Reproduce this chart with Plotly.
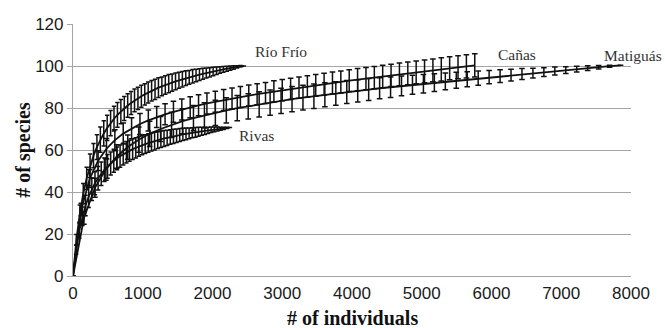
import plotly.graph_objects as go

# ---------------- data ----------------
rio_x = [0, 49, 98, 147, 196, 245, 294, 343, 392, 441, 490, 539, 588, 637, 686, 735, 784, 833, 882, 931,
         980, 1029, 1078, 1127, 1176, 1225, 1274, 1323, 1372, 1421, 1470, 1519, 1568, 1617, 1666, 1715,
         1764, 1813, 1862, 1911, 1960, 2009, 2058, 2107, 2156, 2205, 2254, 2303, 2352, 2401, 2450]
rio_y = [0, 17.3, 29.8, 39.2, 46.5, 52.5, 57.3, 61.4, 64.9, 67.9, 70.5, 72.8, 74.9, 76.7, 78.3, 79.8,
         81.2, 82.4, 83.6, 84.6, 85.6, 86.5, 87.4, 88.2, 88.9, 89.7, 90.3, 91.0, 91.6, 92.1, 92.7, 93.2,
         93.7, 94.2, 94.6, 95.1, 95.5, 95.9, 96.3, 96.7, 97.0, 97.4, 97.7, 98.1, 98.4, 98.7, 99.0, 99.3,
         99.6, 99.9, 100.0]
rio_sd = [0, 2.5, 4.0, 4.8, 5.3, 5.6, 5.8, 5.9, 6.0, 6.0, 6.0, 6.0, 5.9, 5.9, 5.8, 5.7, 5.6, 5.5, 5.4,
          5.3, 5.2, 5.1, 5.0, 4.9, 4.8, 4.7, 4.5, 4.4, 4.3, 4.1, 4.0, 3.8, 3.7, 3.5, 3.3, 3.2, 3.0, 2.8,
          2.6, 2.4, 2.2, 2.0, 1.8, 1.6, 1.4, 1.2, 1.0, 0.8, 0.5, 0.3, 0]

rivas_x = [0, 45, 90, 135, 180, 225, 270, 315, 360, 405, 450, 495, 540, 585, 630, 675, 720, 765, 810,
           855, 900, 945, 990, 1035, 1080, 1125, 1170, 1215, 1260, 1305, 1350, 1395, 1440, 1485, 1530,
           1575, 1620, 1665, 1710, 1755, 1800, 1845, 1890, 1935, 1980, 2025, 2070, 2115, 2160, 2205, 2250]
rivas_y = [0, 12.6, 21.6, 28.4, 33.6, 37.8, 41.3, 44.2, 46.6, 48.7, 50.6, 52.2, 53.6, 54.9, 56.0, 57.1,
           58.0, 58.9, 59.6, 60.4, 61.0, 61.7, 62.3, 62.8, 63.3, 63.8, 64.2, 64.7, 65.1, 65.5, 65.8, 66.2,
           66.5, 66.8, 67.1, 67.4, 67.7, 67.9, 68.2, 68.4, 68.7, 68.9, 69.1, 69.3, 69.6, 69.8, 70.0, 70.1,
           70.3, 70.5, 70.7]
rivas_sd = [0, 2.2, 3.6, 4.4, 4.9, 5.2, 5.4, 5.5, 5.6, 5.6, 5.6, 5.6, 5.5, 5.5, 5.4, 5.3, 5.2, 5.1, 5.0,
            4.9, 4.8, 4.7, 4.6, 4.5, 4.4, 4.3, 4.2, 4.0, 3.9, 3.8, 3.6, 3.5, 3.4, 3.2, 3.1, 2.9, 2.8, 2.6,
            2.4, 2.3, 2.1, 1.9, 1.7, 1.5, 1.3, 1.1, 0.9, 0.7, 0.5, 0.3, 0]

canas_x = [0, 120, 240, 360, 480, 600, 720, 840, 960, 1080, 1200, 1320, 1440, 1560, 1680, 1800, 1920,
           2040, 2160, 2280, 2400, 2520, 2640, 2760, 2880, 3000, 3120, 3240, 3360, 3480, 3600, 3720,
           3840, 3960, 4080, 4200, 4320, 4440, 4560, 4680, 4800, 4920, 5040, 5160, 5280, 5400, 5520,
           5640, 5760]
canas_y = [0, 31.7, 46.4, 54.9, 60.6, 64.7, 67.8, 70.3, 72.4, 74.1, 75.7, 77.0, 78.2, 79.3, 80.3, 81.3,
           82.2, 83.0, 83.8, 84.5, 85.2, 85.9, 86.6, 87.2, 87.9, 88.5, 89.1, 89.7, 90.2, 90.8, 91.3, 91.9,
           92.4, 93.0, 93.5, 94.0, 94.5, 95.0, 95.5, 96.0, 96.5, 97.0, 97.4, 97.9, 98.4, 98.9, 99.4, 99.8,
           100.3]
canas_sd = [0, 3.0, 4.2, 4.7, 4.9, 5.0, 5.0, 5.0, 5.0, 5.0, 5.0, 5.0, 5.0, 5.0, 5.0, 5.0, 5.0, 5.0, 5.0,
            5.0, 5.0, 5.0, 5.0, 5.0, 5.1, 5.1, 5.1, 5.1, 5.1, 5.2, 5.2, 5.2, 5.2, 5.2, 5.3, 5.3, 5.3, 5.3,
            5.3, 5.4, 5.4, 5.4, 5.4, 5.4, 5.5, 5.5, 5.5, 5.5, 5.5]

mat_x = [0, 157, 314, 471, 628, 785, 942, 1099, 1256, 1413, 1570, 1727, 1884, 2041, 2198, 2355, 2512,
         2669, 2826, 2983, 3140, 3297, 3454, 3611, 3768, 3925, 4082, 4239, 4396, 4553, 4710, 4867, 5024,
         5181, 5338, 5495, 5652, 5809, 5966, 6123, 6280, 6437, 6594, 6751, 6908, 7065, 7222, 7379, 7536,
         7693, 7850]
mat_y = [0, 27.6, 42.0, 50.8, 56.9, 61.4, 64.9, 67.7, 70.0, 72.0, 73.7, 75.2, 76.5, 77.7, 78.9, 79.9,
         80.8, 81.7, 82.6, 83.4, 84.2, 84.9, 85.6, 86.3, 86.9, 87.6, 88.2, 88.8, 89.4, 89.9, 90.5, 91.1,
         91.6, 92.1, 92.7, 93.2, 93.7, 94.2, 94.7, 95.2, 95.7, 96.2, 96.6, 97.1, 97.6, 98.0, 98.5, 99.0,
         99.4, 99.9, 100.3]
mat_sd = [0, 3.0, 4.5, 5.2, 5.6, 5.8, 6.0, 6.0, 6.0, 6.0, 6.0, 6.0, 6.0, 6.0, 6.0, 6.0, 6.0, 6.0, 6.0,
          6.0, 6.0, 5.9, 5.8, 5.7, 5.6, 5.5, 5.3, 5.2, 5.0, 4.9, 4.7, 4.5, 4.4, 4.2, 4.0, 3.8, 3.6, 3.4,
          3.2, 3.0, 2.8, 2.6, 2.3, 2.1, 1.9, 1.6, 1.4, 1.1, 0.8, 0.5, 0]

labels = ["Río Frío", "Rivas", "Cañas", "Matiguás"]
label_x = [2580, 2350, 6060, 7590]
label_y = [106.7, 67.0, 105.4, 105.1]

x_ticks = [0, 1000, 2000, 3000, 4000, 5000, 6000, 7000, 8000]
y_ticks = [0, 20, 40, 60, 80, 100, 120]

# ---------------- figure ----------------
fig = go.Figure()

series = [
    (mat_x, mat_y, mat_sd, 2.8),
    (canas_x, canas_y, canas_sd, 2.8),
    (rivas_x, rivas_y, rivas_sd, 2.2),
    (rio_x, rio_y, rio_sd, 2.2),
]
for xs, ys, sds, cap in series:
    fig.add_trace(go.Scatter(
        x=xs, y=ys, mode="lines",
        line=dict(color="#111111", width=1.8),
        error_y=dict(type="data", array=sds, visible=True, color="#111111",
                     thickness=1.5, width=cap),
        showlegend=False, hoverinfo="skip",
    ))

for t, lx, ly in zip(labels, label_x, label_y):
    fig.add_annotation(x=lx, y=ly, text=t, showarrow=False, xanchor="left", yanchor="middle",
                       font=dict(family="Liberation Serif, Times New Roman, serif", size=15.5,
                                 color="#333333"))

fig.add_annotation(xref="paper", yref="paper", x=0.5, y=-0.167, text="<b># of individuals</b>",
                   showarrow=False, xanchor="center", yanchor="middle",
                   font=dict(family="Liberation Serif, Times New Roman, serif", size=20, color="#111111"))
fig.add_annotation(xref="paper", yref="paper", x=-0.090, y=0.5, text="<b># of species</b>",
                   showarrow=False, xanchor="center", yanchor="middle", textangle=-90,
                   font=dict(family="Liberation Serif, Times New Roman, serif", size=20, color="#111111"))

fig.update_layout(
    width=665, height=328,
    margin=dict(l=73, r=34, t=24, b=52, autoexpand=False),
    paper_bgcolor="white", plot_bgcolor="white",
    font=dict(family="Liberation Sans, Arial, sans-serif", size=17, color="#1a1a1a"),
)
fig.update_xaxes(
    range=[0, 8000], tickvals=x_ticks, showgrid=False, zeroline=False,
    showline=True, linecolor="#a5a5a5", linewidth=1.2,
    ticks="outside", ticklen=1, tickcolor="rgba(0,0,0,0)",
    tickfont=dict(size=17), automargin=False,
)
fig.update_yaxes(
    range=[0, 120], tickvals=y_ticks, showgrid=True, gridcolor="#a5a5a5", gridwidth=1.2,
    zeroline=False, showline=True, linecolor="#a5a5a5", linewidth=1.2,
    ticks="outside", ticklen=5, tickcolor="#a5a5a5",
    tickfont=dict(size=17), automargin=False,
)

fig.write_html("out.html", config={"displayModeBar": False},
               post_script="document.body.style.margin='0';document.body.style.overflow='hidden';")
